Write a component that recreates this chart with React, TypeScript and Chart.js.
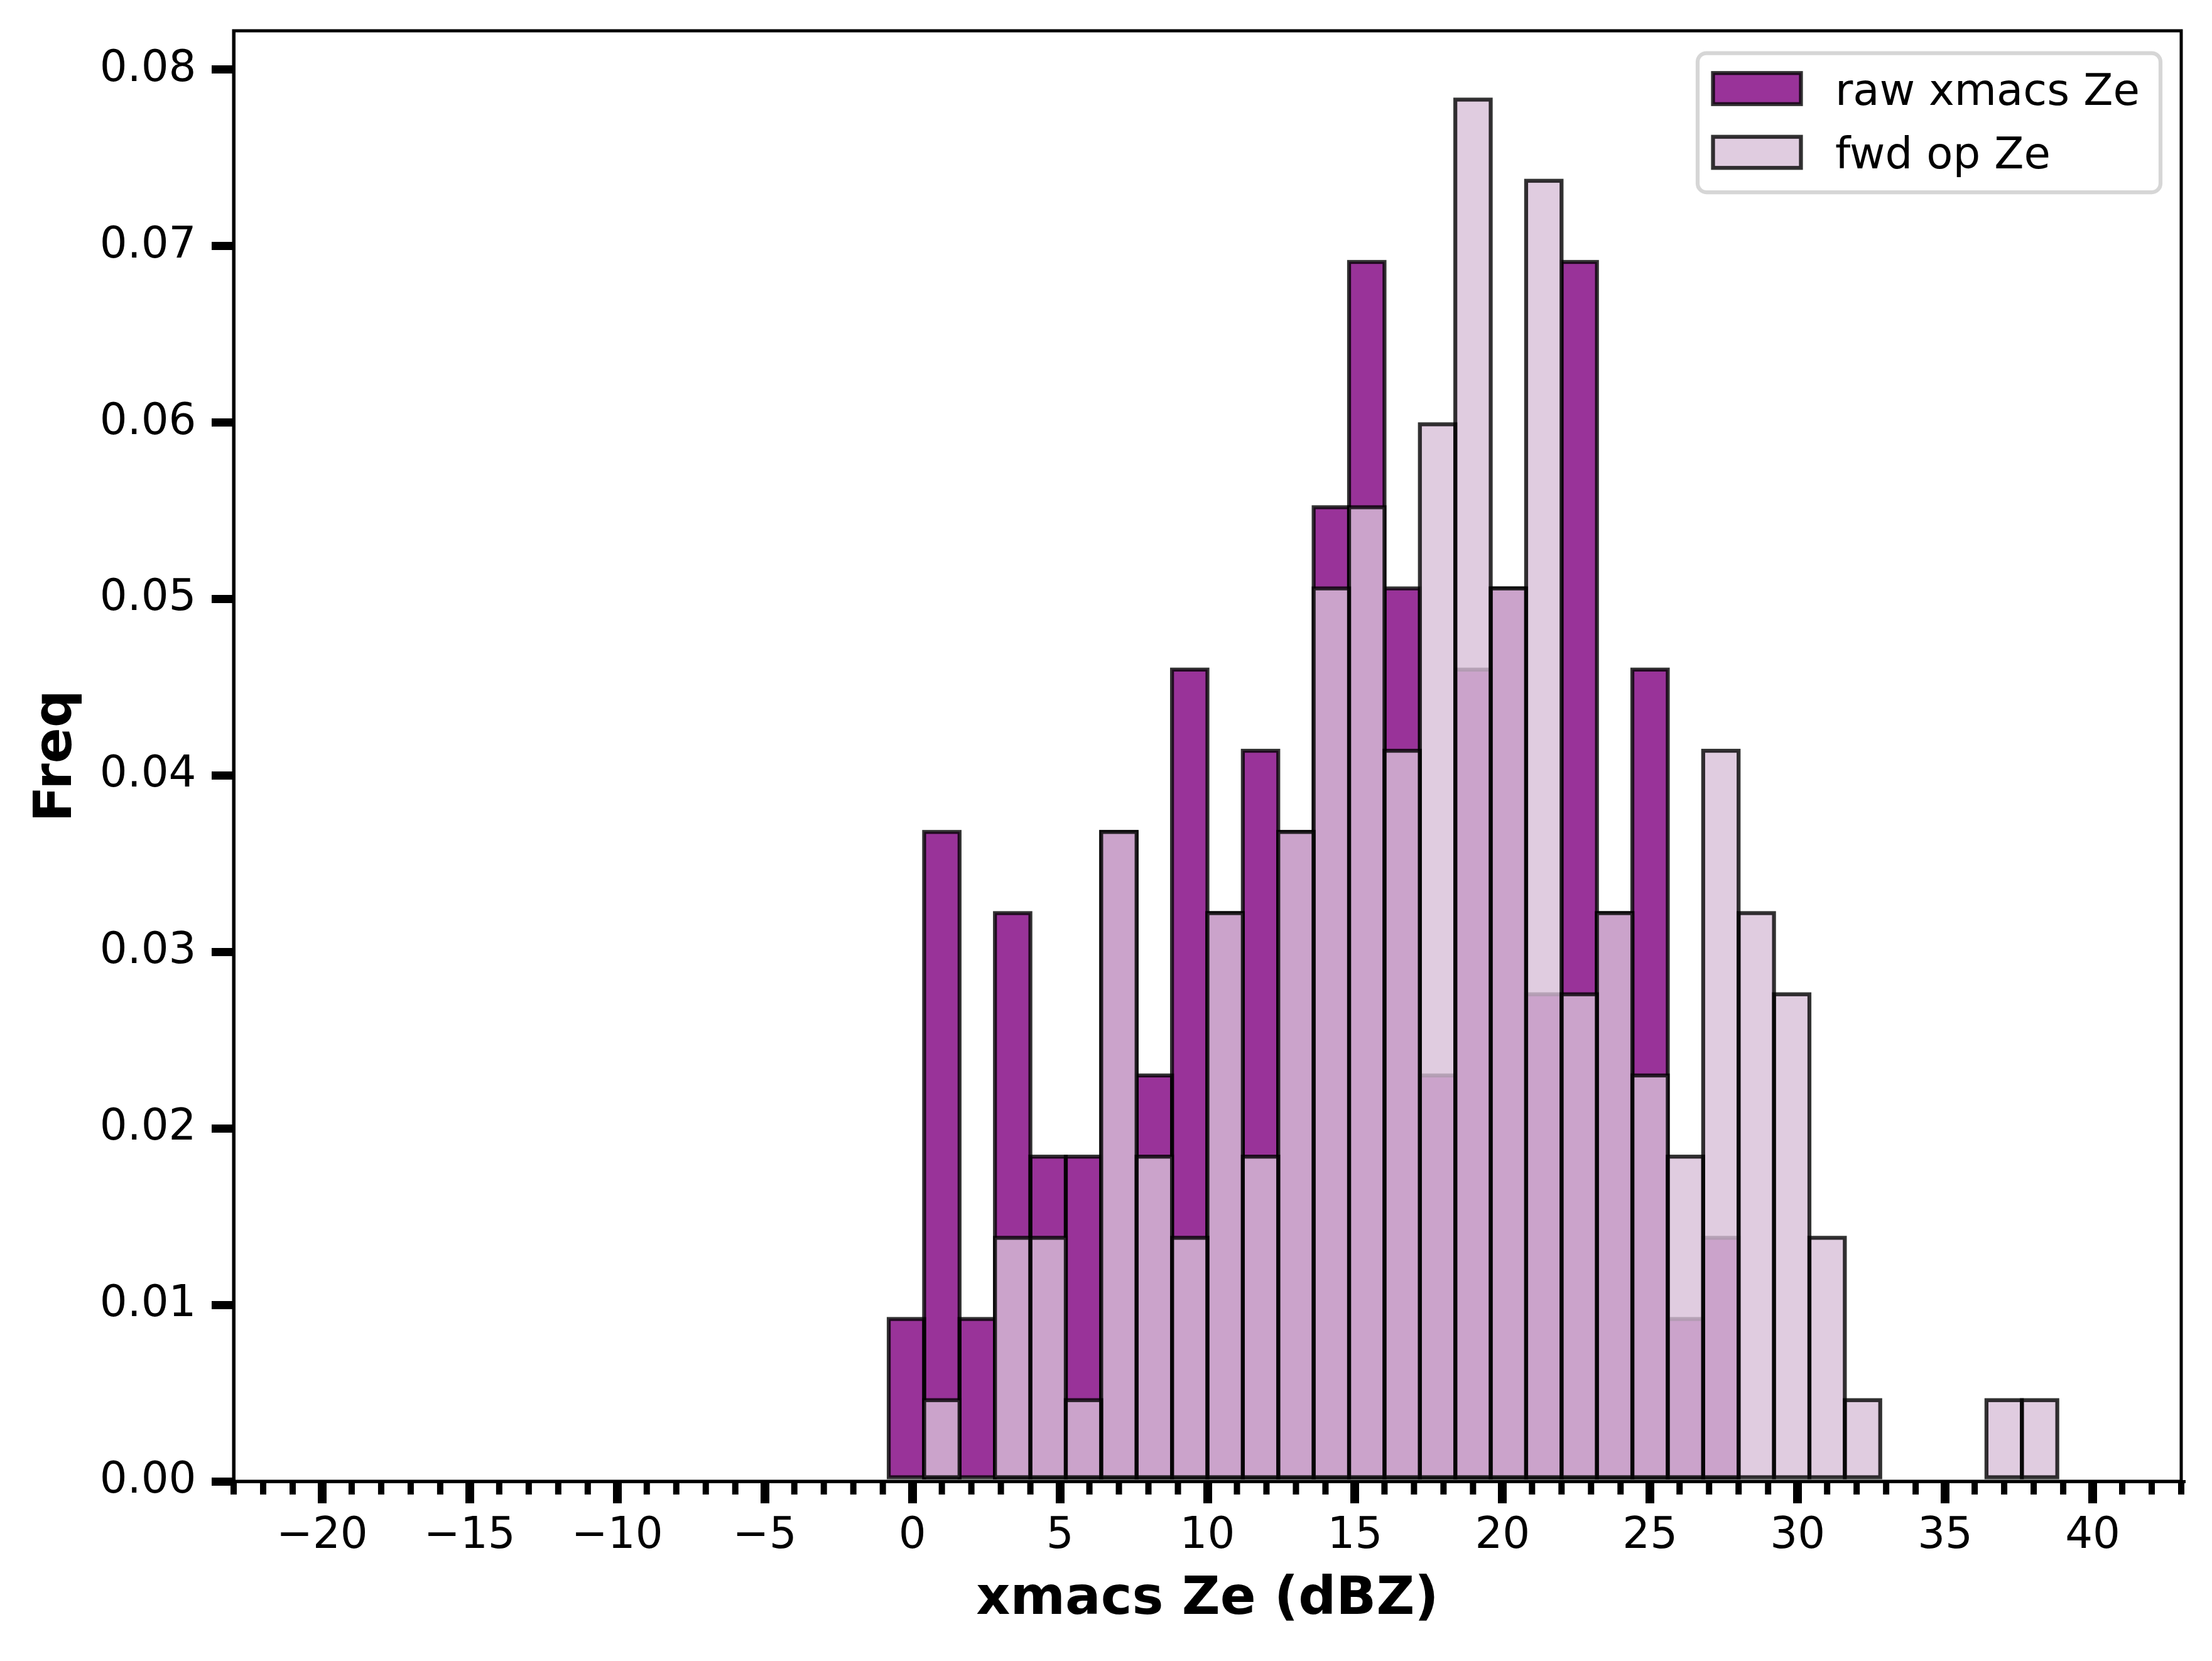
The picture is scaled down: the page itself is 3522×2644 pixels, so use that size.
import React, { useEffect, useRef } from 'react';
import { Chart, registerables } from 'chart.js';

Chart.register(...registerables);

// centres of the 1.2 dBZ wide histogram bins
const binCenters = [
  -0.2, 1.0, 2.2, 3.4, 4.6, 5.8, 7.0, 8.2, 9.4, 10.6, 11.8,
  13.0, 14.2, 15.4, 16.6, 17.8, 19.0, 20.2, 21.4, 22.6, 23.8, 25.0,
  26.2, 27.4, 28.6, 29.8, 31.0, 32.2, 33.4, 34.6, 35.8, 37.0, 38.2,
];

// normalised frequency, raw xmacs Ze
const rawFreq = [
  0.0092, 0.0368, 0.0092, 0.0322, 0.0184, 0.0184, 0.0368, 0.0230, 0.0460, 0.0322, 0.0414,
  0.0368, 0.0552, 0.0691, 0.0506, 0.0230, 0.0460, 0.0506, 0.0276, 0.0691, 0.0322, 0.0460,
  0.0092, 0.0138, 0, 0, 0, 0, 0, 0, 0, 0, 0,
];

// normalised frequency, forward operator Ze
const fwdFreq = [
  0, 0.0046, 0, 0.0138, 0.0138, 0.0046, 0.0368, 0.0184, 0.0138, 0.0322, 0.0184,
  0.0368, 0.0506, 0.0552, 0.0414, 0.0599, 0.0783, 0.0506, 0.0737, 0.0276, 0.0322, 0.0230,
  0.0184, 0.0414, 0.0322, 0.0276, 0.0138, 0.0046, 0, 0, 0, 0.0046, 0.0046,
];

const seriesLabels = ['raw xmacs Ze', 'fwd op Ze'];

const FONT = 'DejaVu Sans';
const EDGE = 'rgba(0,0,0,0.8)';

// matplotlib-like edges: stroke each bar centred on its outline, right after its dataset
const barEdges = {
  id: 'barEdges',
  afterDatasetDraw(chart: any, args: any) {
    const { ctx } = chart;
    ctx.save();
    ctx.strokeStyle = EDGE;
    ctx.lineWidth = 6.25;
    args.meta.data.forEach((el: any) => {
      const { x, y, base, width } = el.getProps(['x', 'y', 'base', 'width'], true);
      if (!isFinite(y) || !isFinite(base) || Math.abs(base - y) < 0.5) return;
      ctx.strokeRect(x - width / 2, y, width, base - y);
    });
    ctx.restore();
  },
};

// box around the axes, drawn over the bars
const axesFrame = {
  id: 'axesFrame',
  afterDatasetsDraw(chart: any) {
    const { ctx, chartArea } = chart;
    const { left, top, right, bottom } = chartArea;
    ctx.save();
    ctx.strokeStyle = '#000';
    ctx.lineWidth = 5;
    ctx.strokeRect(left, top, right - left, bottom - top);
    ctx.restore();
  },
};

// minor ticks every 1 dBZ on the x axis
const minorTicks = {
  id: 'minorTicks',
  afterDraw(chart: any) {
    const { ctx, chartArea } = chart;
    const xs = chart.scales.x;
    ctx.save();
    ctx.strokeStyle = '#000';
    ctx.lineWidth = 10;
    for (let v = Math.ceil(xs.min); v <= xs.max; v++) {
      if (v % 5 === 0) continue;
      const px = xs.getPixelForValue(v);
      ctx.beginPath();
      ctx.moveTo(px, chartArea.bottom);
      ctx.lineTo(px, chartArea.bottom + 21);
      ctx.stroke();
    }
    ctx.restore();
  },
};

// legend inside the axes, upper right
const insideLegend = {
  id: 'insideLegend',
  afterDraw(chart: any) {
    const { ctx, chartArea } = chart;
    const boxW = 737;
    const boxH = 221.5;
    const right = chartArea.right - 33;
    const top = chartArea.top + 35.5;
    const left = right - boxW;

    ctx.save();
    ctx.beginPath();
    ctx.roundRect(left, top, boxW, boxH, 14);
    ctx.fillStyle = 'rgba(255,255,255,0.8)';
    ctx.fill();
    ctx.lineWidth = 6.25;
    ctx.strokeStyle = 'rgba(204,204,204,0.8)';
    ctx.stroke();

    const rows = [56.5, 158];
    const order = [0, 1];
    order.forEach((di, r) => {
      const ds = chart.data.datasets[di];
      const cy = top + rows[r];
      ctx.fillStyle = ds.backgroundColor;
      ctx.fillRect(left + 24.5, cy - 24.75, 140, 49.5);
      ctx.strokeStyle = EDGE;
      ctx.lineWidth = 6.25;
      ctx.strokeRect(left + 24.5, cy - 24.75, 140, 49.5);
      ctx.fillStyle = '#000';
      ctx.font = `69px "${FONT}"`;
      ctx.textAlign = 'left';
      ctx.textBaseline = 'alphabetic';
      ctx.fillText(ds.label, left + 219, cy + 25.5);
    });
    ctx.restore();
  },
};

const App: React.FC = () => {
  const canvasRef = useRef<HTMLCanvasElement>(null);
  const chartRef = useRef<Chart | null>(null);

  useEffect(() => {
    if (!canvasRef.current) return;
    if (chartRef.current) chartRef.current.destroy();

    Chart.defaults.font.family = FONT;
    Chart.defaults.color = '#000';

    chartRef.current = new Chart(canvasRef.current, {
      type: 'bar',
      data: {
        datasets: [
          {
            label: seriesLabels[0],
            data: binCenters.map((x, i) => ({ x, y: rawFreq[i] || null })),
            backgroundColor: 'rgba(128,0,128,0.8)',
            borderWidth: 0,
            grouped: false,
            barPercentage: 1,
            categoryPercentage: 1,
            inflateAmount: 0,
            order: 2,
          },
          {
            label: seriesLabels[1],
            data: binCenters.map((x, i) => ({ x, y: fwdFreq[i] || null })),
            backgroundColor: 'rgba(216,191,216,0.8)',
            borderWidth: 0,
            grouped: false,
            barPercentage: 1,
            categoryPercentage: 1,
            inflateAmount: 0,
            order: 1,
          },
        ] as any,
      },
      options: {
        animation: false,
        responsive: true,
        maintainAspectRatio: false,
        devicePixelRatio: 1,
        layout: { padding: { left: 0, top: 49, right: 49, bottom: 0 } },
        plugins: {
          legend: { display: false },
          tooltip: { enabled: false },
        },
        scales: {
          x: {
            type: 'linear',
            min: -23,
            max: 43,
            offset: false,
            grid: {
              offset: false,
              drawOnChartArea: false,
              drawTicks: true,
              tickLength: 35,
              tickWidth: 14,
              lineWidth: 14,
              tickColor: '#000',
            },
            border: { display: true, color: '#000', width: 5 },
            ticks: {
              stepSize: 5,
              includeBounds: false,
              autoSkip: false,
              maxRotation: 0,
              padding: 12,
              color: '#000',
              font: { size: 69 },
              callback: (v: any) => (v < 0 ? '\u2212' + Math.abs(v) : String(v)),
            },
            title: {
              display: true,
              text: 'xmacs Ze (dBZ)',
              color: '#000',
              font: { size: 84, weight: 'bold' },
              padding: { top: 0, bottom: 46.6 },
            },
            afterFit: (scale: any) => {
              scale.height = 286;
              scale.paddingLeft = 0;
              scale.paddingRight = 0;
            },
          },
          y: {
            type: 'linear',
            min: 0,
            max: 0.0822,
            grid: {
              drawOnChartArea: false,
              drawTicks: true,
              tickLength: 35,
              tickWidth: 13,
              lineWidth: 13,
              tickColor: '#000',
            },
            border: { display: true, color: '#000', width: 5 },
            ticks: {
              stepSize: 0.01,
              includeBounds: false,
              padding: 24.5,
              color: '#000',
              font: { size: 69 },
              callback: (v: any) => Number(v).toFixed(2),
            },
            title: {
              display: true,
              text: 'Freq',
              color: '#000',
              font: { size: 84, weight: 'bold' },
              padding: { top: 40.6, bottom: 0 },
            },
            afterFit: (scale: any) => {
              scale.width = 372;
              scale.paddingTop = 0;
              scale.paddingBottom = 0;
            },
          },
        },
      } as any,
      plugins: [barEdges, axesFrame, minorTicks, insideLegend],
    });

    return () => {
      if (chartRef.current) {
        chartRef.current.destroy();
        chartRef.current = null;
      }
    };
  }, []);

  return (
    <div style={{ position: 'fixed', left: 0, top: 0, width: '100vw', height: '100vh', background: '#fff' }}>
      <canvas ref={canvasRef}></canvas>
    </div>
  );
};

export default App;
